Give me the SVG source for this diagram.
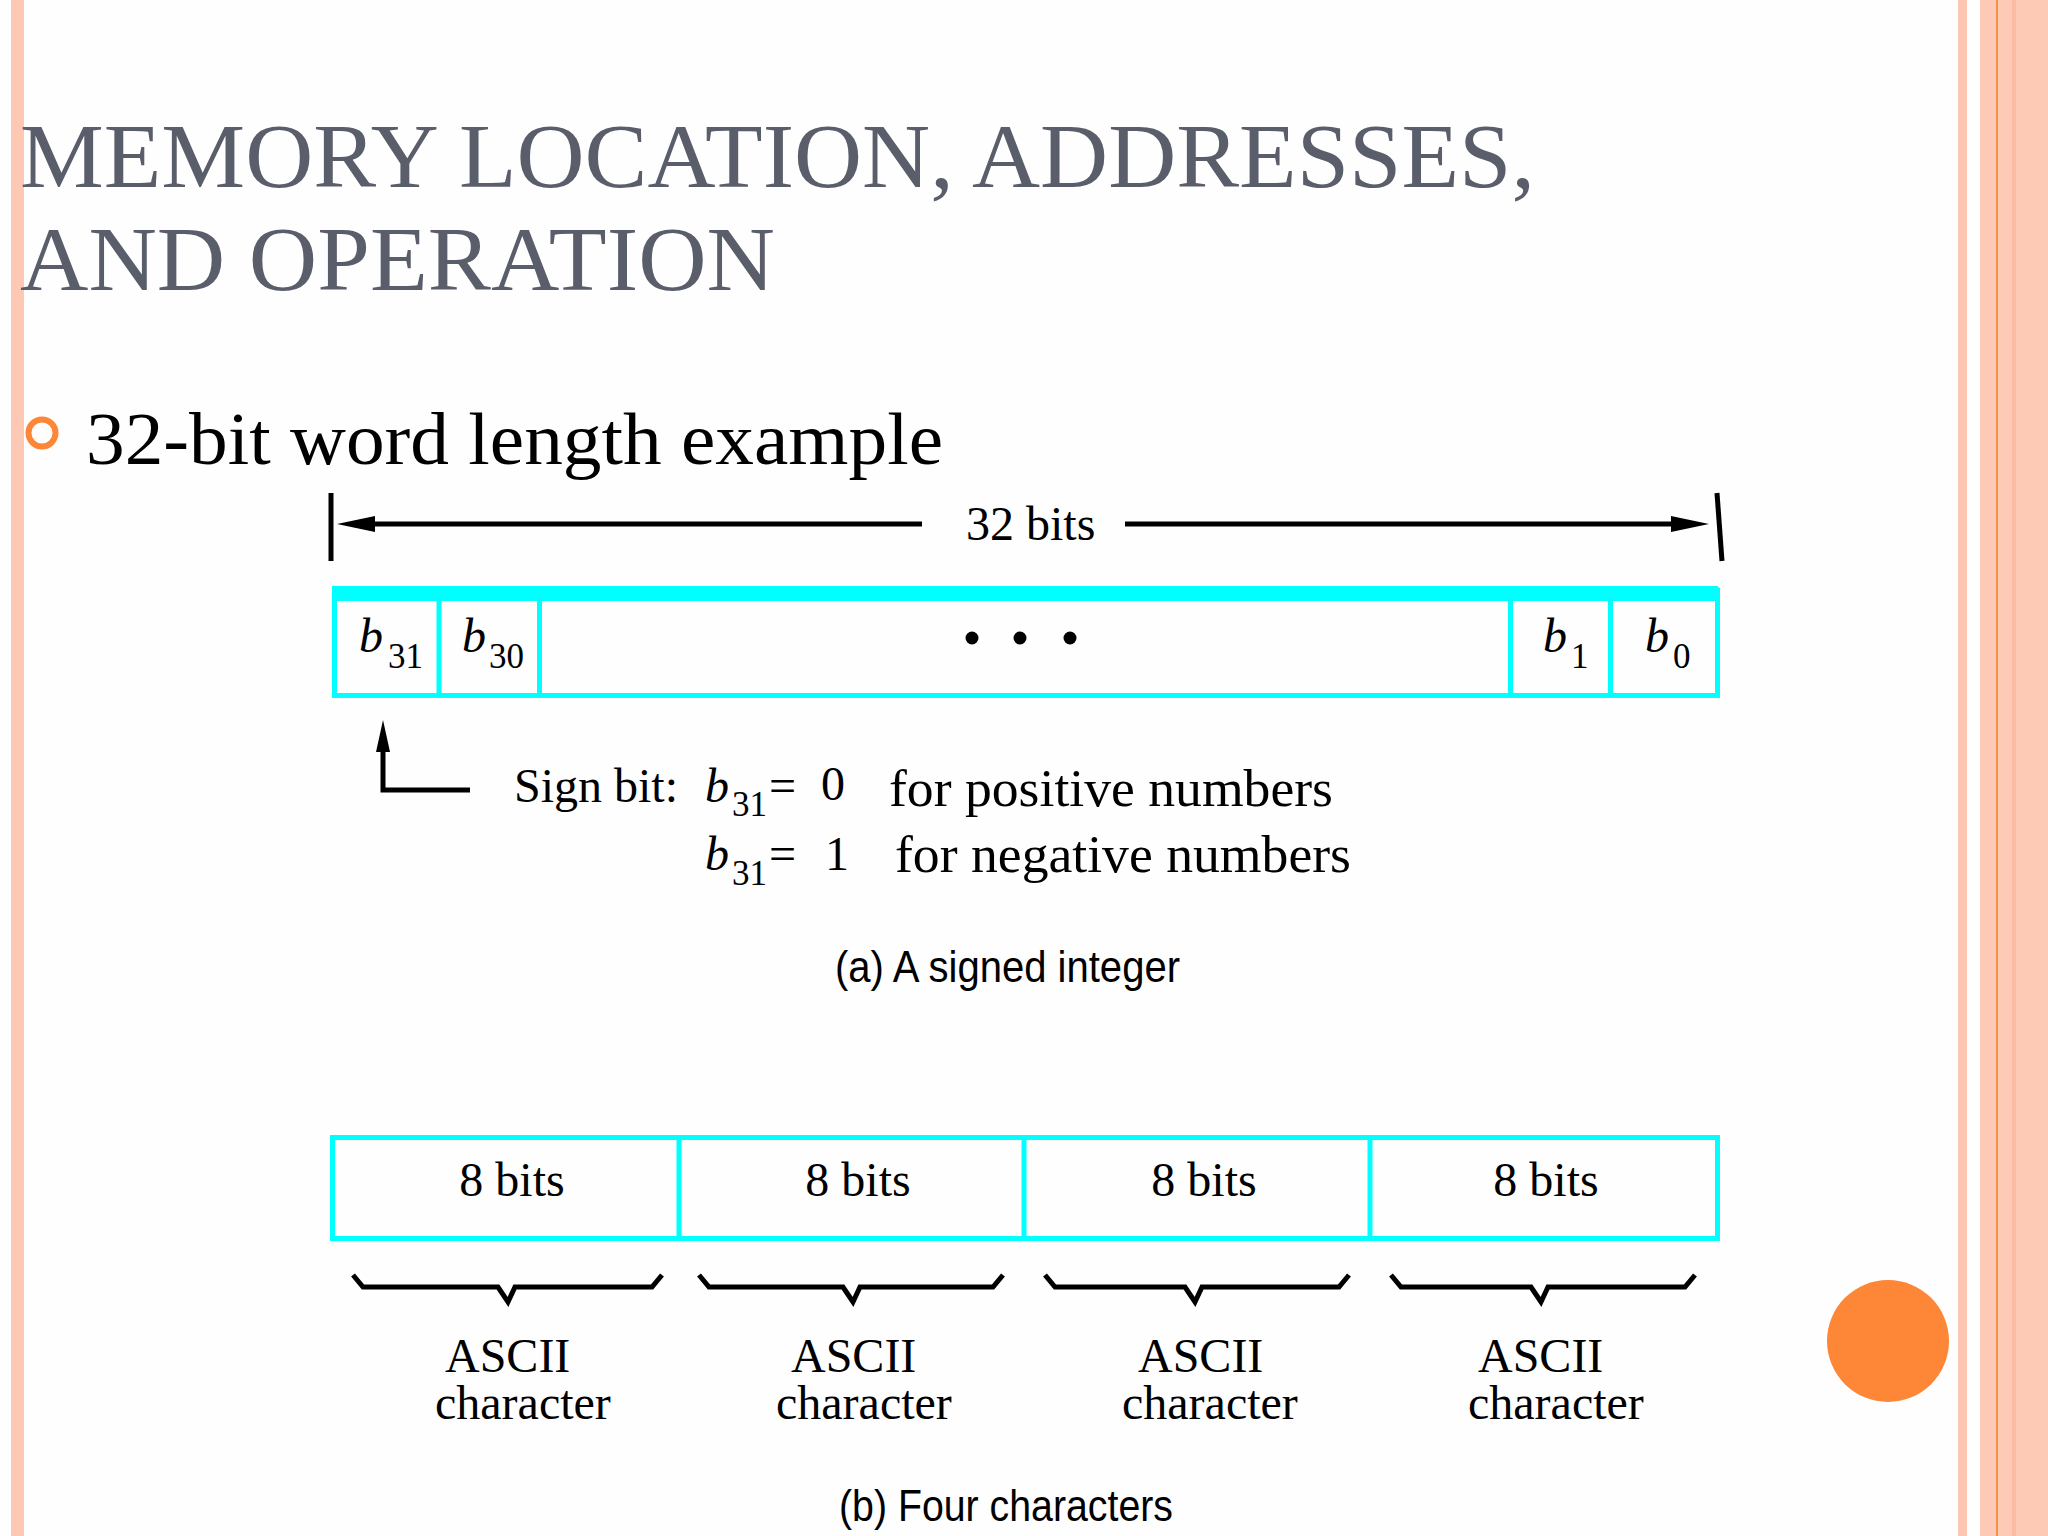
<svg xmlns="http://www.w3.org/2000/svg" width="2048" height="1536" viewBox="0 0 2048 1536">
<style>
.title{font-family:"Liberation Serif","Times New Roman",serif;font-size:92px;fill:#5a5e6b}
.bul{font-family:"Liberation Serif","Times New Roman",serif;font-size:75px;fill:#000}
.t{font-family:"Liberation Serif","Times New Roman",serif;font-size:48px;fill:#000}
.tl{font-family:"Liberation Serif","Times New Roman",serif;font-size:52px;fill:#000}
.it{font-family:"Liberation Serif","Times New Roman",serif;font-size:48px;font-style:italic;fill:#000}
.sub{font-family:"Liberation Serif","Times New Roman",serif;font-size:35px;fill:#000}
.cap{font-family:"Liberation Sans",Arial,sans-serif;font-size:44px;fill:#000}
.cell{fill:none;stroke:#00ffff;stroke-width:5}
.ln{fill:none;stroke:#000;stroke-width:5}
.br{fill:none;stroke:#000;stroke-width:5;stroke-linejoin:miter}
</style>
<defs>
<marker id="ah" markerUnits="userSpaceOnUse" markerWidth="38" markerHeight="16" refX="0" refY="8" orient="auto" viewBox="0 0 38 16">
<path d="M0,0 L38,8 L0,16 z" fill="#000"/>
</marker>
<marker id="ahs" markerUnits="userSpaceOnUse" markerWidth="32" markerHeight="14" refX="0" refY="7" orient="auto" viewBox="0 0 32 14">
<path d="M0,0 L32,7 L0,14 z" fill="#000"/>
</marker>
</defs>
<rect x="0" y="0" width="2048" height="1536" fill="#fefefe"/>
<g id="decor">
<rect x="11" y="0" width="13" height="1536" fill="#fdc8b4"/>
<rect x="1958" y="0" width="9" height="1536" fill="#fcc6b2"/>
<rect x="1980" y="0" width="68" height="1536" fill="#fdcab6"/>
<rect x="1996" y="0" width="2" height="1536" fill="#f4914f"/>
<rect x="2012" y="0" width="4" height="1536" fill="#fbbca4"/>
<circle cx="1888" cy="1341" r="61" fill="#fd8637"/>
</g>
<g id="title">
<text class="title" x="20" y="187" textLength="1515" lengthAdjust="spacingAndGlyphs">MEMORY LOCATION, ADDRESSES,</text>
<text class="title" x="20" y="290" textLength="755" lengthAdjust="spacingAndGlyphs">AND OPERATION</text>
</g>
<g id="bullet">
<circle cx="42" cy="433" r="13.5" fill="none" stroke="#fd8637" stroke-width="6"/>
<text class="bul" x="86" y="464" textLength="857" lengthAdjust="spacingAndGlyphs">32-bit word length example</text>
</g>
<g id="word-a">
<rect x="332" y="586" width="1386" height="15" fill="#00ffff"/>
<rect class="cell" x="334.5" y="590" width="1383" height="105.5"/>
<line class="cell" x1="439" y1="590" x2="439" y2="695"/>
<line class="cell" x1="539.5" y1="590" x2="539.5" y2="695"/>
<line class="cell" x1="1510.5" y1="590" x2="1510.5" y2="695"/>
<line class="cell" x1="1610.5" y1="590" x2="1610.5" y2="695"/>
<text class="it" x="359" y="652">b</text><text class="sub" x="388" y="668">31</text>
<text class="it" x="462" y="652">b</text><text class="sub" x="489" y="668">30</text>
<circle cx="972" cy="638" r="6.5" fill="#000"/>
<circle cx="1020" cy="638" r="6.5" fill="#000"/>
<circle cx="1070" cy="638" r="6.5" fill="#000"/>
<text class="it" x="1543" y="652">b</text><text class="sub" x="1571" y="668">1</text>
<text class="it" x="1645" y="652">b</text><text class="sub" x="1673" y="668">0</text>
</g>
<g id="dimension-label">
<text class="t" x="966" y="540">32 bits</text>
</g>
<g id="sign-note">
<text class="t" x="514" y="802">Sign bit:</text>
<text class="it" x="705" y="802">b</text><text class="sub" x="732" y="816">31</text>
<text class="t" x="769" y="802">=</text>
<text class="t" x="821" y="800">0</text>
<text class="tl" x="889" y="806" textLength="444" lengthAdjust="spacingAndGlyphs">for positive numbers</text>
<text class="it" x="705" y="870">b</text><text class="sub" x="732" y="885">31</text>
<text class="t" x="769" y="870">=</text>
<text class="t" x="825" y="870">1</text>
<text class="tl" x="895" y="872" textLength="456" lengthAdjust="spacingAndGlyphs">for negative numbers</text>
</g>
<g id="caption-a">
<text class="cap" x="835" y="982" textLength="345" lengthAdjust="spacingAndGlyphs">(a) A signed integer</text>
</g>
<g id="word-b">
<rect class="cell" x="332.5" y="1137.5" width="1385" height="101"/>
<line class="cell" x1="679" y1="1137.5" x2="679" y2="1238.5"/>
<line class="cell" x1="1024" y1="1137.5" x2="1024" y2="1238.5"/>
<line class="cell" x1="1370" y1="1137.5" x2="1370" y2="1238.5"/>
<text class="t" x="512" y="1196" text-anchor="middle">8 bits</text>
<text class="t" x="858" y="1196" text-anchor="middle">8 bits</text>
<text class="t" x="1204" y="1196" text-anchor="middle">8 bits</text>
<text class="t" x="1546" y="1196" text-anchor="middle">8 bits</text>
</g>
<g id="ascii-labels">
<text class="t" x="445" y="1372">ASCII</text><text class="t" x="435" y="1419">character</text>
<text class="t" x="791" y="1372">ASCII</text><text class="t" x="776" y="1419">character</text>
<text class="t" x="1138" y="1372">ASCII</text><text class="t" x="1122" y="1419">character</text>
<text class="t" x="1478" y="1372">ASCII</text><text class="t" x="1468" y="1419">character</text>
</g>
<g id="caption-b">
<text class="cap" x="839" y="1521" textLength="334" lengthAdjust="spacingAndGlyphs">(b) Four characters</text>
</g>
<g id="connectors">
<line class="ln" x1="331" y1="493" x2="331" y2="561"/>
<line class="ln" x1="1717" y1="493" x2="1722" y2="561"/>
<line class="ln" x1="922" y1="524" x2="375" y2="524" marker-end="url(#ah)"/>
<line class="ln" x1="1125" y1="524" x2="1671" y2="524" marker-end="url(#ah)"/>
<path class="ln" d="M470,790 H383 V752" marker-end="url(#ahs)"/>
<path class="br" d="M353,1275 L363,1287 H498 L508,1302 L515,1287 H652 L662,1275"/>
<path class="br" d="M699,1275 L709,1287 H843 L853,1302 L860,1287 H993 L1003,1275"/>
<path class="br" d="M1045,1275 L1055,1287 H1185 L1195,1302 L1202,1287 H1339 L1349,1275"/>
<path class="br" d="M1391,1275 L1401,1287 H1531 L1541,1302 L1548,1287 H1685 L1695,1275"/>
</g>
</svg>
